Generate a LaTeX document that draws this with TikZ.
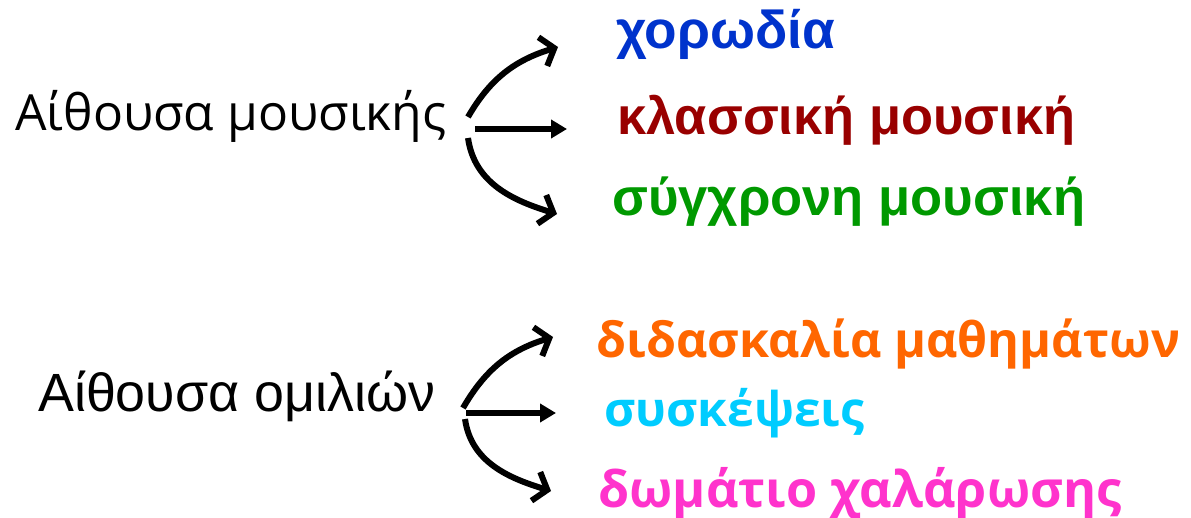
\documentclass[tikz,border=0pt]{standalone}
\usepackage{fontspec}
\setmainfont{Liberation Sans}
\newfontfamily\lsans{Liberation Sans}
\newfontfamily\osans{Open Sans}
\usetikzlibrary{arrows.meta}
\definecolor{cblue}{HTML}{0033CC}
\definecolor{cred}{HTML}{990000}
\definecolor{cgreen}{HTML}{009900}
\definecolor{corange}{HTML}{FF6600}
\definecolor{ccyan}{HTML}{00CCFF}
\definecolor{cmagenta}{HTML}{FF33CC}
\newcommand{\fitw}[2]{\resizebox{#1pt}{!}{#2}}
\tikzset{
  lbl/.style={inner sep=0pt, anchor=base west},
  curvearrow/.style={line width=6pt, -{Straight Barb[length=12pt,width=30pt,line width=6pt]}},
  straightarrow/.style={line width=6pt, -{Triangle[length=16pt,width=18pt]}},
}
\begin{document}
\begin{tikzpicture}[x=1pt,y=-1pt]
\useasboundingbox (0,0) rectangle (1191,518);
% top group
\node[lbl] (src1) at (15,131) {\fitw{431}{\osans Αίθουσα μουσικής}};
\node[lbl] (t1) at (616,49) {\fitw{219}{\lsans\bfseries\color{cblue}χορωδία}};
\node[lbl] (t2) at (617,135) {\fitw{458}{\lsans\bfseries\color{cred}κλασσική μουσική}};
\node[lbl] (t3) at (612,216) {\fitw{473}{\lsans\bfseries\color{cgreen}σύγχρονη μουσική}};
\coordinate (a1s) at (468,117);
\coordinate (a1e) at (558,47);
\coordinate (a2s) at (475,129);
\coordinate (a2e) at (567,129);
\coordinate (a3s) at (468,138);
\coordinate (a3e) at (557,214);
\draw[curvearrow] (a1s) to[out=60, in=197] (a1e);
\draw[straightarrow] (a2s) -- (a2e);
\draw[curvearrow] (a3s) to[out=-82, in=163] (a3e);
% bottom group
\node[lbl] (src2) at (38,412) {\fitw{397}{\lsans Αίθουσα ομιλιών}};
\node[lbl] (b1) at (596,358) {\fitw{584}{\osans\bfseries\color{corange}διδασκαλία μαθημάτων}};
\node[lbl] (b2) at (604,426) {\fitw{260}{\osans\bfseries\color{ccyan}συσκέψεις}};
\node[lbl] (b3) at (598,507) {\fitw{523}{\osans\bfseries\color{cmagenta}δωμάτιο χαλάρωσης}};
\coordinate (c1s) at (463,408);
\coordinate (c1e) at (553,337);
\coordinate (c2s) at (466,413);
\coordinate (c2e) at (556,413);
\coordinate (c3s) at (465,419);
\coordinate (c3e) at (551,491);
\draw[curvearrow] (c1s) to[out=60, in=197] (c1e);
\draw[straightarrow] (c2s) -- (c2e);
\draw[curvearrow] (c3s) to[out=-82, in=163] (c3e);
\end{tikzpicture}
\end{document}
